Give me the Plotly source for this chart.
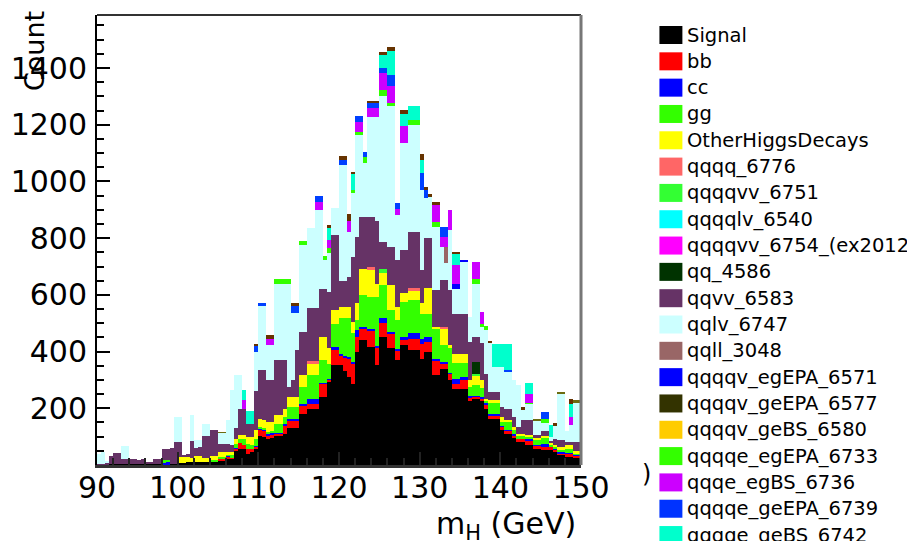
import plotly.graph_objects as go

# 0.5 GeV bins from 90 to 150 GeV (120 bins)
bin_lo = 90.0
bin_w = 0.5

signal = [
    0, 0, 3, 3, 5, 3, 3, 3, 5, 3,
    3, 3, 5, 3, 4, 5, 2, 3, 5, 5,
    8, 8, 10, 12, 12, 10, 12, 10, 12, 12,
    16, 16, 22, 22, 51, 57, 57, 40, 46, 57,
    104, 100, 93, 95, 101, 101, 110, 132, 132, 132,
    181, 181, 199, 199, 199, 240, 240, 293, 352, 352,
    352, 330, 311, 287, 399, 440, 440, 416, 416, 352,
    452, 452, 411, 411, 369, 422, 422, 405, 405, 405,
    375, 399, 399, 317, 317, 340, 340, 299, 269, 269,
    269, 269, 225, 234, 234, 228, 199, 163, 163, 163,
    122, 110, 110, 95, 81, 81, 69, 69, 58, 58,
    52, 52, 54, 45, 34, 34, 28, 28, 28, 28,
]
bb = [
    0, 0, 0, 0, 0, 0, 0, 0, 0, 0,
    0, 0, 0, 0, 0, 0, 0, 0, 0, 0,
    0, 0, 0, 0, 0, 0, 0, 0, 0, 0,
    4, 4, 8, 6, 6, 21, 13, 17, 11, 8,
    20, 20, 11, 11, 9, 9, 30, 23, 23, 23,
    29, 29, 17, 17, 17, 47, 47, 7, 53, 53,
    35, 50, 65, 71, 53, 41, 41, 59, 59, 64,
    49, 49, 53, 53, 36, 18, 18, 41, 41, 41,
    53, 35, 35, 52, 52, 18, 18, 23, 18, 18,
    30, 30, 13, 6, 6, 7, 11, 12, 12, 12,
    12, 12, 12, 10, 12, 12, 18, 18, 9, 9,
    12, 12, 10, 10, 8, 8, 12, 12, 6, 6,
]
cc = [
    0, 0, 0, 0, 0, 0, 0, 0, 0, 0,
    0, 0, 0, 0, 0, 0, 6, 6, 0, 0,
    0, 0, 0, 0, 0, 0, 0, 0, 0, 0,
    0, 0, 2, 0, 2, 0, 0, 0, 0, 2,
    2, 4, 8, 6, 4, 4, 5, 8, 8, 8,
    5, 5, 18, 18, 18, 3, 3, 5, 12, 12,
    3, 3, 4, 4, 23, 6, 6, 5, 5, 4,
    18, 18, 6, 6, 5, 12, 12, 18, 18, 18,
    18, 18, 18, 6, 6, 4, 4, 4, 18, 18,
    12, 12, 7, 4, 4, 5, 12, 5, 5, 5,
    2, 2, 2, 3, 2, 2, 3, 3, 3, 3,
    11, 11, 2, 3, 4, 4, 3, 3, 4, 4,
]
gg = [
    0, 0, 0, 0, 0, 0, 0, 0, 0, 0,
    0, 0, 0, 0, 0, 0, 8, 8, 0, 0,
    0, 0, 0, 0, 0, 0, 0, 0, 6, 4,
    8, 8, 2, 6, 16, 15, 20, 18, 12, 26,
    8, 8, 4, 8, 32, 32, 25, 42, 42, 42,
    60, 60, 82, 82, 82, 79, 79, 52, 82, 82,
    127, 134, 137, 102, 36, 112, 112, 113, 113, 173,
    116, 116, 76, 76, 101, 124, 124, 117, 117, 117,
    88, 82, 82, 106, 106, 60, 60, 90, 53, 53,
    47, 47, 30, 37, 37, 30, 6, 42, 42, 42,
    16, 28, 28, 17, 6, 6, 9, 9, 17, 17,
    21, 21, 4, 4, 8, 8, 15, 15, 4, 4,
]
other_higgs = [
    0, 0, 0, 0, 0, 0, 0, 0, 0, 0,
    0, 0, 0, 0, 0, 0, 0, 0, 0, 0,
    20, 22, 18, 14, 18, 20, 13, 15, 12, 14,
    18, 18, 12, 12, 18, 12, 15, 24, 30, 32,
    29, 28, 36, 30, 29, 29, 29, 35, 35, 35,
    41, 41, 41, 41, 41, 83, 83, 54, 47, 47,
    41, 41, 41, 41, 59, 94, 94, 94, 94, 47,
    41, 41, 89, 89, 47, 29, 29, 36, 36, 36,
    36, 89, 89, 6, 6, 59, 59, 6, 35, 35,
    35, 35, 25, 36, 36, 30, 6, 6, 6, 6,
    17, 5, 5, 10, 9, 9, 6, 6, 9, 9,
    5, 5, 8, 8, 9, 9, 11, 11, 7, 7,
]
qqqq_6776 = [
    0, 0, 0, 0, 0, 0, 0, 0, 0, 0,
    0, 0, 0, 0, 0, 0, 0, 0, 0, 0,
    0, 0, 0, 0, 0, 0, 0, 0, 0, 0,
    0, 0, 0, 0, 0, 0, 0, 0, 0, 0,
    0, 0, 0, 0, 0, 0, 0, 0, 0, 0,
    0, 0, 9, 9, 9, 0, 0, 0, 0, 0,
    0, 0, 0, 0, 0, 0, 0, 13, 13, 0,
    0, 0, 0, 0, 0, 0, 0, 6, 6, 6,
    0, 0, 0, 0, 0, 6, 6, 0, 0, 0,
    0, 0, 0, 0, 0, 0, 0, 0, 0, 0,
    0, 0, 0, 0, 0, 0, 0, 0, 0, 0,
    0, 0, 0, 0, 0, 0, 0, 0, 0, 0,
]
qqqqvv_6751 = [
    0, 0, 0, 0, 0, 0, 0, 0, 0, 0,
    0, 0, 0, 0, 0, 0, 0, 0, 0, 0,
    0, 0, 0, 0, 0, 0, 0, 0, 0, 0,
    0, 0, 0, 0, 0, 0, 0, 0, 0, 0,
    0, 0, 0, 0, 0, 0, 0, 0, 0, 0,
    0, 0, 0, 0, 0, 0, 0, 0, 0, 0,
    0, 0, 0, 0, 0, 0, 0, 0, 0, 0,
    17, 17, 0, 0, 0, 0, 0, 0, 0, 0,
    0, 0, 0, 0, 0, 0, 0, 0, 0, 0,
    0, 0, 0, 5, 5, 0, 0, 0, 0, 0,
    0, 0, 0, 0, 0, 0, 0, 0, 0, 0,
    0, 0, 0, 0, 0, 0, 0, 0, 0, 0,
]
qq_4586 = [
    0, 0, 0, 0, 0, 0, 0, 0, 0, 0,
    0, 0, 0, 0, 0, 0, 0, 0, 0, 0,
    0, 0, 0, 0, 0, 0, 0, 0, 0, 0,
    0, 0, 0, 0, 0, 0, 0, 0, 0, 0,
    0, 0, 0, 0, 0, 0, 0, 0, 0, 0,
    0, 0, 0, 0, 0, 0, 0, 0, 0, 0,
    0, 0, 0, 0, 0, 0, 0, 0, 0, 0,
    0, 0, 0, 0, 0, 0, 0, 0, 0, 0,
    0, 0, 0, 0, 0, 0, 0, 0, 0, 0,
    0, 0, 0, 41, 41, 0, 0, 0, 0, 0,
    0, 0, 0, 0, 0, 0, 0, 0, 0, 0,
    0, 0, 0, 0, 0, 0, 0, 0, 0, 0,
]
qqvv_6583 = [
    5, 5, 7, 27, 39, 41, 17, 19, 17, 17,
    15, 17, 7, 9, 18, 17, 41, 40, 55, 75,
    52, 5, 12, 58, 30, 35, 79, 79, 95, 95,
    27, 27, 29, 23, 37, 94, 94, 46, 46, 135,
    171, 174, 148, 150, 194, 194, 170, 35, 60, 165,
    153, 153, 186, 186, 186, 170, 170, 199, 265, 265,
    92, 92, 106, 229, 235, 183, 183, 176, 176, 220,
    95, 95, 135, 135, 165, 153, 153, 200, 200, 200,
    117, 177, 177, 130, 130, 165, 165, 195, 141, 141,
    141, 141, 134, 89, 89, 130, 88, 29, 29, 29,
    35, 42, 42, 35, 24, 47, 52, 52, 9, 9,
    19, 19, 7, 20, 24, 24, 12, 12, 32, 32,
]
qqlv_6747 = [
    35, 41, 2, 0, 0, 0, 47, 45, 0, 0,
    0, 0, 0, 0, 0, 0, 0, 0, 0, 88,
    88, 0, 0, 94, 27, 22, 41, 41, 0, 0,
    40, 40, 85, 197, 186, 117, 0, 0, 0, 140,
    228, 228, 123, 123, 271, 271, 271, 365, 235, 130,
    307, 307, 283, 283, 347, 277, 101, 136, 94, 94,
    409, 409, 159, 226, 360, 289, 189, 351, 351, 367,
    512, 512, 495, 495, 159, 377, 377, 377, 377, 377,
    283, 140, 146, 223, 223, 118, 59, 212, 88, 88,
    183, 183, 88, 188, 188, 57, 153, 174, 89, 89,
    142, 129, 129, 130, 147, 38, 59, 59, 52, 52,
    28, 28, 13, 48, 164, 164, 39, 59, 141, 141,
]
qqll_3048 = [
    0, 0, 0, 0, 0, 0, 0, 0, 0, 0,
    0, 0, 0, 0, 0, 0, 0, 0, 0, 0,
    0, 0, 0, 0, 0, 0, 0, 0, 0, 0,
    0, 0, 0, 0, 0, 0, 0, 0, 0, 0,
    0, 0, 0, 0, 0, 0, 0, 0, 0, 0,
    0, 0, 0, 0, 0, 0, 0, 0, 0, 0,
    0, 0, 0, 0, 0, 0, 0, 0, 0, 0,
    0, 0, 0, 0, 0, 0, 0, 0, 0, 0,
    0, 0, 0, 0, 0, 0, 59, 0, 0, 0,
    0, 0, 0, 0, 0, 0, 0, 0, 0, 0,
    0, 0, 0, 0, 0, 0, 0, 0, 0, 0,
    0, 0, 0, 0, 0, 0, 0, 0, 0, 0,
]
qqqqv_egEPA_6571 = [
    0, 0, 0, 0, 0, 0, 0, 0, 0, 0,
    0, 0, 0, 0, 0, 0, 0, 0, 0, 0,
    0, 0, 0, 0, 0, 0, 0, 0, 0, 0,
    0, 0, 0, 0, 0, 0, 0, 0, 0, 0,
    0, 0, 0, 0, 0, 0, 0, 0, 0, 0,
    0, 0, 0, 0, 0, 0, 0, 0, 0, 0,
    0, 0, 0, 0, 0, 0, 0, 0, 0, 0,
    0, 0, 0, 0, 0, 0, 0, 0, 0, 0,
    0, 0, 0, 0, 0, 0, 0, 0, 18, 18,
    6, 6, 0, 0, 0, 0, 0, 0, 0, 0,
    0, 0, 0, 0, 0, 0, 0, 0, 0, 0,
    0, 0, 0, 0, 0, 0, 0, 0, 0, 0,
]
qqqqv_geEPA_6577 = [
    0, 0, 0, 0, 0, 0, 0, 0, 0, 0,
    0, 0, 0, 0, 0, 0, 0, 0, 0, 0,
    0, 0, 0, 0, 0, 0, 0, 0, 0, 0,
    3, 3, 0, 0, 0, 0, 0, 0, 0, 0,
    0, 0, 0, 0, 0, 0, 0, 0, 0, 0,
    0, 0, 0, 0, 0, 0, 0, 0, 0, 0,
    0, 0, 0, 0, 0, 0, 0, 0, 0, 0,
    0, 0, 0, 0, 0, 0, 0, 0, 0, 0,
    0, 0, 0, 0, 0, 0, 0, 0, 0, 0,
    0, 0, 0, 0, 0, 0, 0, 0, 0, 0,
    0, 0, 0, 0, 0, 0, 0, 0, 3, 3,
    0, 0, 0, 0, 6, 6, 0, 0, 6, 6,
]
qqqqe_egEPA_6733 = [
    0, 0, 0, 0, 0, 0, 0, 0, 0, 0,
    0, 0, 0, 0, 0, 0, 0, 0, 0, 0,
    0, 0, 0, 0, 0, 0, 0, 0, 0, 0,
    0, 0, 0, 0, 0, 0, 0, 0, 0, 0,
    0, 0, 0, 0, 15, 15, 15, 15, 0, 0,
    14, 14, 0, 0, 0, 0, 14, 21, 0, 0,
    0, 0, 0, 10, 11, 11, 20, 0, 0, 0,
    23, 23, 12, 12, 0, 0, 0, 15, 15, 15,
    0, 0, 0, 18, 18, 0, 0, 0, 0, 0,
    0, 0, 0, 16, 16, 10, 15, 0, 0, 0,
    0, 0, 0, 0, 0, 0, 3, 3, 0, 0,
    16, 16, 0, 0, 0, 0, 0, 0, 0, 0,
]
qqqqe_egBS_6736 = [
    0, 0, 0, 0, 0, 0, 0, 0, 0, 0,
    0, 0, 0, 0, 0, 0, 0, 0, 0, 0,
    0, 0, 0, 0, 0, 0, 0, 0, 0, 0,
    0, 0, 0, 0, 0, 0, 30, 0, 0, 0,
    0, 0, 23, 23, 0, 0, 0, 0, 0, 0,
    0, 0, 0, 0, 30, 30, 0, 28, 0, 0,
    0, 0, 36, 0, 35, 35, 0, 31, 31, 31,
    60, 60, 59, 59, 20, 59, 59, 0, 0, 0,
    0, 0, 0, 59, 59, 35, 35, 70, 65, 65,
    0, 0, 0, 61, 61, 43, 0, 0, 0, 0,
    0, 0, 0, 0, 0, 0, 33, 33, 0, 0,
    0, 0, 0, 0, 0, 0, 0, 29, 0, 0,
]
qqqqe_geEPA_6739 = [
    0, 0, 0, 0, 0, 0, 0, 0, 0, 0,
    0, 0, 0, 0, 0, 0, 0, 0, 0, 0,
    0, 0, 0, 0, 0, 0, 0, 0, 0, 0,
    0, 0, 0, 0, 0, 0, 0, 0, 0, 22,
    8, 8, 0, 0, 0, 0, 0, 0, 25, 25,
    0, 0, 0, 0, 18, 18, 0, 0, 0, 0,
    18, 18, 0, 0, 21, 21, 20, 18, 18, 18,
    17, 17, 41, 41, 21, 0, 0, 0, 0, 0,
    59, 30, 0, 0, 0, 35, 35, 0, 0, 0,
    0, 0, 0, 0, 0, 0, 0, 0, 0, 0,
    0, 6, 6, 0, 0, 0, 0, 0, 0, 0,
    23, 23, 0, 0, 0, 0, 0, 0, 0, 0,
]
qqqqe_geBS_6742 = [
    0, 0, 0, 0, 0, 0, 0, 0, 0, 0,
    0, 0, 0, 0, 0, 0, 0, 0, 0, 0,
    0, 0, 0, 0, 0, 0, 0, 0, 0, 0,
    0, 0, 0, 0, 0, 0, 37, 47, 47, 0,
    0, 0, 0, 0, 0, 0, 0, 0, 0, 0,
    0, 0, 0, 0, 0, 0, 0, 42, 0, 0,
    0, 0, 0, 55, 0, 0, 0, 0, 0, 0,
    47, 47, 82, 82, 0, 44, 44, 50, 50, 50,
    47, 0, 0, 0, 0, 0, 0, 0, 41, 41,
    0, 0, 0, 0, 0, 0, 0, 0, 82, 82,
    82, 94, 94, 0, 0, 0, 37, 37, 0, 0,
    0, 0, 42, 0, 0, 0, 0, 47, 0, 0,
]
# last stacked sample (dark brown caps), its legend row is cut off
top_sample = [
    0, 0, 0, 0, 0, 0, 0, 0, 0, 0,
    0, 0, 0, 0, 0, 0, 0, 0, 0, 0,
    0, 0, 0, 0, 0, 0, 0, 0, 0, 0,
    0, 0, 0, 0, 0, 0, 0, 0, 0, 6,
    0, 0, 12, 12, 0, 0, 0, 0, 10, 10,
    0, 0, 0, 0, 0, 0, 0, 9, 0, 0,
    13, 13, 26, 10, 0, 0, 0, 8, 8, 8,
    9, 9, 15, 15, 0, 15, 15, 0, 0, 0,
    20, 11, 10, 12, 12, 0, 0, 0, 6, 6,
    0, 0, 0, 0, 0, 0, 0, 5, 0, 0,
    0, 0, 0, 0, 0, 10, 0, 0, 0, 0,
    0, 0, 0, 10, 0, 0, 0, 18, 0, 0,
]

legend_names = [
    "Signal", "bb", "cc", "gg", "OtherHiggsDecays", "qqqq_6776",
    "qqqqvv_6751", "qqqqlv_6540", "qqqqvv_6754_(ex2012)", "qq_4586",
    "qqvv_6583", "qqlv_6747", "qqll_3048", "qqqqv_egEPA_6571",
    "qqqqv_geEPA_6577", "qqqqv_geBS_6580", "qqqqe_egEPA_6733",
    "qqqe_egBS_6736", "qqqqe_geEPA_6739", "qqqqe_geBS_6742",
]
legend_colors = [
    "#000000", "#ff0000", "#0000ff", "#33ff00", "#ffff00", "#ff6666",
    "#33ff33", "#00ffff", "#ff00ff", "#003300",
    "#663366", "#ccffff", "#996666", "#0000ff",
    "#333300", "#ffcc00", "#33ff00",
    "#cc00ff", "#0033ff", "#00ffcc",
]

stack = [
    ("Signal", signal, "#000000"),
    ("bb", bb, "#ff0000"),
    ("cc", cc, "#0000ff"),
    ("gg", gg, "#33ff00"),
    ("OtherHiggsDecays", other_higgs, "#ffff00"),
    ("qqqq_6776", qqqq_6776, "#ff6666"),
    ("qqqqvv_6751", qqqqvv_6751, "#33ff33"),
    ("qq_4586", qq_4586, "#003300"),
    ("qqvv_6583", qqvv_6583, "#663366"),
    ("qqlv_6747", qqlv_6747, "#ccffff"),
    ("qqll_3048", qqll_3048, "#996666"),
    ("qqqqv_egEPA_6571", qqqqv_egEPA_6571, "#0000ff"),
    ("qqqqv_geEPA_6577", qqqqv_geEPA_6577, "#6b6b10"),
    ("qqqqe_egEPA_6733", qqqqe_egEPA_6733, "#33ff00"),
    ("qqqqe_egBS_6736", qqqqe_egBS_6736, "#cc00ff"),
    ("qqqqe_geEPA_6739", qqqqe_geEPA_6739, "#0040ff"),
    ("qqqqe_geBS_6742", qqqqe_geBS_6742, "#00ffcc"),
    ("top", top_sample, "#663300"),
]

centers = [bin_lo + bin_w * (i + 0.5) for i in range(len(signal))]

# the page body has an 8px margin: the figure starts at page (8, 8)
OFF = 8
FIG_W, FIG_H = 915 - OFF, 541 - OFF
# plot frame in page pixels
PL, PR, PT, PB = 97.0, 581.5, 15.0, 464.7


def fx(px):
    return (px - PL) / (PR - PL)


def fy(py):
    return (PB - py) / (PB - PT)


fig = go.Figure()
for name, vals, col in stack:
    fig.add_trace(go.Bar(x=centers, y=vals, width=bin_w, name=name,
                         marker=dict(color=col, line=dict(width=0))))

FONT = "DejaVu Sans"
shapes = [
    dict(type="line", xref="paper", yref="paper", x0=0, x1=1, y0=1, y1=1,
         line=dict(color="#333333", width=2)),
    dict(type="line", xref="paper", yref="paper", x0=1, x1=1, y0=0, y1=1,
         line=dict(color="#777777", width=3)),
]
annotations = [
    dict(text="Count", textangle=-90, xref="paper", yref="paper",
         x=fx(34), y=fy(51), xanchor="center", yanchor="middle",
         showarrow=False, font=dict(family=FONT, size=27, color="black")),
    dict(text="m<sub>H</sub> (GeV)", xref="paper", yref="paper",
         x=fx(578), y=fy(525), xanchor="right", yanchor="middle",
         showarrow=False, font=dict(family=FONT, size=30, color="black")),
    dict(text=")", xref="paper", yref="paper", x=fx(647), y=fy(474),
         xanchor="center", yanchor="middle", showarrow=False,
         font=dict(family=FONT, size=24, color="black")),
]
for k, (name, col) in enumerate(zip(legend_names, legend_colors)):
    cy = 35 + 26.3 * k
    shapes.append(dict(type="rect", xref="paper", yref="paper",
                       x0=fx(660), x1=fx(683), y0=fy(cy + 9), y1=fy(cy - 9),
                       fillcolor=col, line=dict(width=0)))
    annotations.append(dict(text=name, xref="paper", yref="paper",
                            x=fx(686), y=fy(cy), xanchor="left",
                            yanchor="middle", showarrow=False,
                            font=dict(family=FONT, size=19.5, color="black")))

fig.update_layout(
    width=FIG_W, height=FIG_H,
    margin=dict(l=PL - OFF, r=915 - PR, t=PT - OFF, b=541 - PB, pad=0),
    paper_bgcolor="white", plot_bgcolor="white",
    barmode="stack", bargap=0, showlegend=False,
    font=dict(family=FONT, color="black"),
    shapes=shapes, annotations=annotations,
    xaxis=dict(range=[90, 150], tickvals=[90, 100, 110, 120, 130, 140, 150],
               ticks="inside", ticklen=13, tickwidth=2, tickcolor="#222222",
               minor=dict(dtick=2, tick0=90, ticks="inside", ticklen=7,
                          tickwidth=2, tickcolor="#222222"),
               showline=True, linecolor="#333333", linewidth=3,
               showgrid=False, zeroline=False, automargin=False,
               ticklabelstandoff=-6,
               tickfont=dict(family=FONT, size=30, color="black")),
    yaxis=dict(range=[0, 1587],
               tickvals=[200, 400, 600, 800, 1000, 1200, 1400],
               ticks="inside", ticklen=13, tickwidth=2, tickcolor="black",
               minor=dict(dtick=50, tick0=0, ticks="inside", ticklen=7,
                          tickwidth=2, tickcolor="black"),
               showline=True, linecolor="black", linewidth=2,
               showgrid=False, zeroline=False, automargin=False,
               ticklabelstandoff=2,
               tickfont=dict(family=FONT, size=30, color="black")),
)

fig.write_html("out.html")
